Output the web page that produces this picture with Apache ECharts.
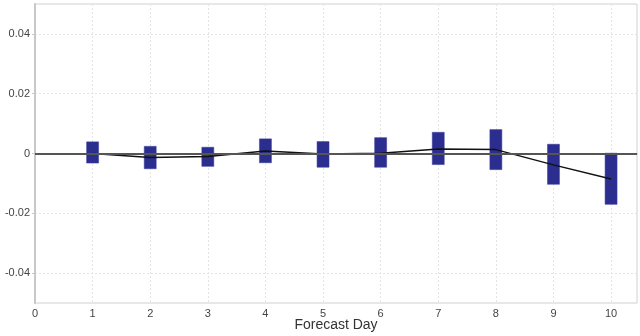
<!DOCTYPE html>
<html>
<head>
<meta charset="utf-8">
<script src="https://cdn.jsdelivr.net/npm/echarts@6/dist/echarts.min.js"></script>
<style>html,body{margin:0;padding:0;background:#fff}#c{width:640px;height:336px}</style>
</head>
<body>
<div id="c"></div>
<script>
var days = [1, 2, 3, 4, 5, 6, 7, 8, 9, 10];
var meanValues = [0.0000, -0.0013, -0.0010, 0.0008, -0.0002, 0.0001, 0.0015, 0.0013, -0.0038, -0.0085];
var rangeHigh = [0.0039, 0.0024, 0.0021, 0.0049, 0.0040, 0.0053, 0.0071, 0.0080, 0.0031, 0.0001];
var rangeLow = [-0.0032, -0.0051, -0.0043, -0.0031, -0.0046, -0.0046, -0.0037, -0.0054, -0.0103, -0.0170];
var xTicks = [0, 1, 2, 3, 4, 5, 6, 7, 8, 9, 10];
var yTicks = [-0.04, -0.02, 0, 0.02, 0.04];

var chart = echarts.init(document.getElementById('c'));
var font = 'Liberation Sans, Arial, sans-serif';
chart.setOption({
  animation: false,
  grid: { left: 35, right: 3, top: 4, bottom: 33, outerBoundsMode: 'none', containLabel: false,
          show: true, borderColor: '#d0d0d0', borderWidth: 1 },
  xAxis: {
    type: 'value', min: 0, max: 10.45,
    name: 'Forecast Day', nameLocation: 'middle', nameGap: 15, nameMoveOverlap: false,
    nameTextStyle: { fontFamily: font, fontSize: 14, color: '#333' },
    axisLine: { lineStyle: { color: '#c8c8c8', width: 2 } },
    axisTick: { show: true, length: 3, lineStyle: { color: '#c8c8c8' }, customValues: xTicks },
    axisLabel: { fontFamily: font, fontSize: 11, color: '#444', margin: 5, customValues: xTicks },
    splitLine: { show: true, lineStyle: { color: '#e4e4e4', type: [2, 2], width: 1 } }
  },
  yAxis: {
    type: 'value', min: -0.05, max: 0.05,
    axisLine: { show: true, lineStyle: { color: '#c8c8c8', width: 2 } },
    axisTick: { show: true, length: 3, lineStyle: { color: '#c8c8c8' }, customValues: yTicks },
    axisLabel: { fontFamily: font, fontSize: 11, color: '#444', margin: 5, customValues: yTicks },
    splitLine: { show: true, lineStyle: { color: '#e4e4e4', type: [2, 2], width: 1 } }
  },
  series: [
    {
      type: 'custom',
      data: days.map(function (d, i) { return [d, rangeLow[i], rangeHigh[i]]; }),
      encode: { x: 0, y: [1, 2] },
      renderItem: function (params, api) {
        var lo = api.coord([api.value(0), api.value(1)]);
        var hi = api.coord([api.value(0), api.value(2)]);
        var w = 12;
        return {
          type: 'rect',
          shape: { x: lo[0] - w / 2, y: hi[1], width: w, height: lo[1] - hi[1] },
          style: { fill: '#2b2e8e', stroke: '#3a3da0', lineWidth: 0.5 }
        };
      },
      z: 2
    },
    {
      type: 'line',
      data: days.map(function (d, i) { return [d, meanValues[i]]; }),
      showSymbol: false,
      lineStyle: { color: '#111', width: 1.5 },
      markLine: {
        silent: true, symbol: ['none', 'none'], label: { show: false },
        lineStyle: { color: '#555', width: 2, type: 'solid' },
        data: [{ yAxis: 0 }]
      },
      z: 3
    }
  ]
});
</script>
</body>
</html>
